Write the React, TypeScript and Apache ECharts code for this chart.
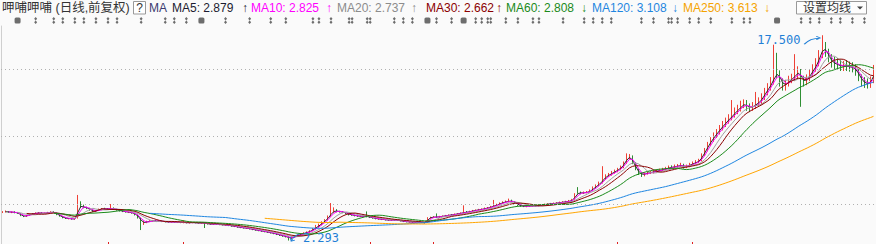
import { useEffect, useRef } from 'react';
import * as echarts from 'echarts';

// ---- candle data (one candle ≈ 3 px) ----
const opens = [
  4.36,4.40,4.45,4.36,4.43,4.36,4.30,4.12,4.06,4.16,
  4.24,4.30,4.32,4.36,4.29,4.34,4.35,4.42,4.36,4.22,
  4.08,3.97,3.90,3.93,3.86,3.95,4.90,4.82,4.72,4.68,
  4.56,4.44,4.52,4.58,4.66,4.64,4.60,4.70,4.61,4.54,
  4.47,4.42,4.37,4.36,4.30,4.18,3.95,3.55,3.63,3.72,
  3.73,3.78,3.71,3.74,3.71,3.67,3.64,3.68,3.62,3.66,
  3.61,3.65,3.59,3.61,3.64,3.61,3.57,3.60,3.56,3.53,
  3.49,3.53,3.50,3.46,3.43,3.45,3.41,3.35,3.34,3.27,
  3.24,3.19,3.21,3.14,3.11,3.05,3.03,2.97,2.93,2.91,
  2.84,2.81,2.74,2.69,2.61,2.57,2.44,2.54,2.63,2.69,
  2.80,2.86,2.90,3.02,3.14,3.28,3.46,3.63,3.82,4.10,
  4.45,4.55,4.44,4.43,4.36,4.28,4.21,4.16,4.11,4.12,
  4.06,4.12,4.04,3.98,3.96,3.87,3.89,3.84,3.83,3.79,
  3.83,3.79,3.77,3.74,3.71,3.66,3.68,3.64,3.67,3.63,
  3.61,3.62,3.96,3.99,4.07,4.01,4.09,4.12,4.13,4.21,
  4.19,4.27,4.26,4.32,4.42,4.39,4.44,4.52,4.57,4.60,
  4.61,4.70,4.71,4.82,4.90,4.94,5.07,5.14,5.20,5.24,
  5.18,5.06,4.91,4.84,4.81,4.86,4.82,4.88,4.85,4.91,
  4.94,4.99,5.03,5.01,5.06,5.07,5.14,5.16,5.20,5.23,
  5.35,5.95,5.84,5.79,5.86,5.90,6.02,6.22,6.38,6.58,
  6.85,7.10,7.18,7.35,7.42,7.60,7.72,8.05,8.45,8.48,
  8.02,7.55,7.28,7.14,7.27,7.32,7.34,7.42,7.47,7.52,
  7.57,7.64,7.74,7.71,7.80,7.85,7.90,7.74,7.82,7.95,
  8.02,8.12,8.25,8.65,9.00,9.45,9.75,10.10,10.35,10.65,
  10.90,11.15,11.40,11.60,11.90,12.05,12.35,12.45,12.18,12.12,
  12.35,12.45,12.65,12.95,13.35,13.65,14.10,15.60,14.65,14.05,
  13.75,13.95,14.25,14.35,14.65,14.85,14.15,14.05,14.35,14.75,
  15.05,15.45,16.05,16.70,16.25,15.85,15.55,15.45,15.25,15.15,
  15.30,15.22,15.12,15.05,14.85,14.45,14.05,13.92,13.85,14.15,
];
const closes = [
  4.40,4.45,4.38,4.42,4.35,4.33,4.13,4.08,4.15,4.25,
  4.28,4.33,4.35,4.30,4.33,4.36,4.40,4.38,4.20,4.10,
  3.98,3.93,3.92,3.88,3.90,4.85,4.80,4.75,4.70,4.55,
  4.45,4.50,4.60,4.62,4.65,4.63,4.68,4.62,4.55,4.48,
  4.45,4.40,4.38,4.33,4.20,4.00,3.60,3.65,3.70,3.74,
  3.76,3.72,3.75,3.70,3.68,3.66,3.67,3.64,3.65,3.62,
  3.64,3.60,3.62,3.63,3.60,3.58,3.61,3.57,3.52,3.50,
  3.52,3.49,3.47,3.45,3.44,3.40,3.36,3.33,3.28,3.25,
  3.22,3.20,3.15,3.10,3.06,3.02,2.98,2.94,2.90,2.85,
  2.80,2.75,2.68,2.62,2.58,2.45,2.55,2.62,2.70,2.78,
  2.85,2.92,3.00,3.15,3.30,3.45,3.65,3.80,4.05,4.40,
  4.50,4.45,4.42,4.38,4.30,4.20,4.18,4.12,4.10,4.08,
  4.10,4.05,4.00,3.95,3.90,3.88,3.85,3.82,3.80,3.82,
  3.80,3.78,3.75,3.70,3.68,3.67,3.65,3.66,3.64,3.62,
  3.60,3.95,4.00,4.05,4.02,4.08,4.10,4.14,4.18,4.20,
  4.25,4.28,4.33,4.38,4.40,4.45,4.50,4.55,4.58,4.62,
  4.68,4.72,4.80,4.88,4.95,5.05,5.12,5.18,5.22,5.20,
  5.08,4.90,4.85,4.82,4.85,4.83,4.86,4.84,4.90,4.93,
  4.97,5.00,5.02,5.05,5.08,5.12,5.15,5.18,5.22,5.30,
  5.70,5.85,5.80,5.85,5.88,6.00,6.20,6.35,6.55,6.80,
  7.05,7.15,7.30,7.40,7.55,7.70,8.00,8.40,8.50,8.05,
  7.60,7.30,7.15,7.25,7.30,7.35,7.40,7.45,7.50,7.55,
  7.62,7.70,7.72,7.78,7.82,7.88,7.75,7.80,7.92,8.00,
  8.10,8.20,8.60,8.95,9.40,9.70,10.05,10.30,10.60,10.85,
  11.10,11.35,11.55,11.85,12.00,12.30,12.40,12.20,12.10,12.30,
  12.40,12.60,12.90,13.30,13.60,14.00,14.50,14.70,14.10,13.80,
  13.90,14.20,14.30,14.60,14.80,14.20,14.10,14.30,14.70,15.00,
  15.40,16.00,16.60,16.30,15.90,15.50,15.40,15.30,15.20,15.25,
  15.20,15.15,15.10,14.90,14.50,14.10,13.95,13.90,14.10,14.80,
];
const lows = [
  4.33,4.37,4.35,4.32,4.31,4.28,4.10,4.03,4.04,4.13,
  4.20,4.26,4.28,4.27,4.26,4.30,4.32,4.34,4.17,4.06,
  3.94,3.89,3.86,3.84,3.83,3.92,4.70,4.68,4.62,4.50,
  4.40,4.40,4.48,4.54,4.58,4.57,4.56,4.58,4.50,4.44,
  4.40,4.36,4.33,4.28,4.15,3.92,3.07,3.45,3.58,3.66,
  3.69,3.68,3.67,3.66,3.64,3.62,3.61,3.60,3.59,3.58,
  3.57,3.56,3.55,3.57,3.56,3.54,3.53,3.22,3.48,3.46,
  3.45,3.45,3.43,3.41,3.39,3.36,3.32,3.29,3.24,3.21,
  3.18,3.15,3.11,3.06,3.02,2.98,2.94,2.90,2.86,2.81,
  2.76,2.70,2.63,2.57,2.52,2.293,2.40,2.50,2.58,2.65,
  2.75,2.82,2.87,2.98,3.10,3.25,3.42,3.60,3.78,4.05,
  4.35,4.38,4.36,4.32,4.25,4.15,4.13,4.08,4.05,4.04,
  4.02,4.01,3.96,3.91,3.86,3.83,3.81,3.78,3.76,3.75,
  3.76,3.74,3.71,3.66,3.64,3.62,3.61,3.60,3.60,3.58,
  3.56,3.60,3.91,3.95,3.97,3.98,4.04,4.07,4.09,4.15,
  4.15,4.22,4.22,4.28,4.34,4.35,4.40,4.47,4.51,4.55,
  4.57,4.64,4.67,4.77,4.84,4.90,5.01,5.08,5.12,5.13,
  5.02,4.84,4.79,4.77,4.76,4.78,4.78,4.79,4.81,4.86,
  4.89,4.93,4.96,4.97,5.01,5.03,5.08,5.11,5.14,5.18,
  5.32,5.76,5.72,5.74,5.79,5.85,5.98,6.16,6.32,6.52,
  6.78,7.00,7.10,7.25,7.35,7.50,7.65,7.98,8.30,7.95,
  7.50,7.15,7.00,7.05,7.18,7.22,7.26,7.32,7.38,7.42,
  7.48,7.55,7.60,7.62,7.68,7.74,7.62,7.65,7.72,7.85,
  7.92,8.02,8.15,8.55,8.90,9.30,9.60,9.90,10.15,10.45,
  10.70,10.95,11.20,11.40,11.65,11.85,12.10,11.90,11.80,11.90,
  12.05,12.20,12.40,12.70,13.05,13.40,13.85,14.30,13.70,13.40,
  13.40,13.70,13.95,14.10,14.30,12.20,13.70,13.80,14.10,14.45,
  14.80,15.20,15.80,15.90,15.50,15.10,15.00,14.95,14.85,14.85,
  14.85,14.80,14.75,14.50,14.10,13.70,13.60,13.55,13.60,13.95,
];
const highs = [
  4.47,4.52,4.48,4.45,4.46,4.39,4.32,4.15,4.19,4.30,
  4.33,4.38,4.40,4.39,4.37,4.42,4.46,4.45,4.38,4.24,
  4.10,4.00,3.96,3.95,3.94,5.67,5.20,4.95,4.80,4.72,
  4.60,4.55,4.66,4.70,4.72,4.70,5.00,4.75,4.65,4.58,
  4.52,4.47,4.43,4.40,4.33,4.22,3.98,3.72,3.76,3.80,
  3.82,3.81,3.79,3.77,3.74,3.71,3.72,3.70,3.69,3.68,
  3.80,3.68,3.66,3.67,3.66,3.64,3.64,3.63,3.58,3.56,
  3.56,3.55,3.53,3.50,3.48,3.48,3.44,3.38,3.36,3.30,
  3.27,3.24,3.23,3.17,3.13,3.08,3.05,3.00,2.96,2.93,
  2.87,2.83,2.76,2.71,2.64,2.60,2.60,2.66,2.75,2.83,
  2.91,2.97,3.06,3.22,3.45,3.55,3.72,3.88,4.15,5.07,
  4.75,4.62,4.50,4.48,4.40,4.32,4.26,4.20,4.16,4.15,
  4.15,4.45,4.08,4.02,3.99,3.92,3.92,3.88,3.86,3.86,
  3.87,3.83,3.81,3.77,3.74,3.71,3.71,3.70,3.70,3.67,
  3.65,4.02,4.06,4.10,4.30,4.12,4.15,4.19,4.23,4.26,
  4.30,4.33,4.38,4.90,4.48,4.50,4.56,4.60,4.64,4.68,
  4.74,4.78,4.86,5.30,5.02,5.12,5.20,5.26,5.40,5.32,
  5.22,5.09,4.95,4.89,4.90,4.90,4.92,4.92,4.96,4.99,
  5.03,5.06,5.08,5.11,5.14,5.18,5.21,5.24,5.30,5.38,
  5.80,6.25,5.92,5.93,5.96,6.08,6.30,6.45,6.66,7.80,
  7.20,7.30,7.45,7.55,7.68,7.85,8.15,8.75,8.70,8.60,
  8.10,7.62,7.35,7.35,7.40,7.45,7.52,7.58,7.62,7.68,
  7.75,7.85,7.86,7.92,7.96,8.05,7.98,7.92,8.05,8.15,
  8.25,8.35,8.75,9.15,9.60,9.95,10.30,10.55,10.85,11.15,
  11.40,11.65,12.70,12.15,12.35,12.65,12.75,12.70,12.45,12.55,
  13.30,12.90,13.20,13.60,13.95,14.40,16.80,16.20,14.90,14.30,
  14.20,14.50,14.65,16.10,15.20,15.00,14.50,14.60,15.00,15.35,
  15.80,16.40,17.50,17.00,16.50,16.10,15.90,15.80,15.70,15.60,
  15.65,15.55,15.50,15.35,15.00,14.60,14.40,14.30,14.45,15.30,
];

// ---- moving averages (periods in candle units) and header readouts ----
const maNames = ['MA5', 'MA10', 'MA20', 'MA30', 'MA60', 'MA120', 'MA250'];
const maPeriods = [2, 3, 6, 9, 18, 50, 88];
const maColors = ['#2b2b2b', '#ff00ff', '#a0a0a0', '#8b0000', '#1a8a1a', '#1f86e0', '#ffa500'];
const maTextColors = ['#1c1c30', '#ff00ff', '#8c8c8c', '#8b0000', '#1a8a1a', '#1f86e0', '#f5a300'];
const maValues = ['2.879', '2.825', '2.737', '2.662', '2.808', '3.108', '3.613'];
const maArrows = ['↑', '↑', '↑', '↑', '↓', '↓', '↓'];

const gridLevels = [5, 10, 15];
const yRange = [2.037, 18.185];
const periodTicks = [35, 60, 122, 143, 204, 229];
const infoMarks = [11,17,20,24,27,31,35,38,46,54,57,61,74,82,89,94,103,105,109,115,116,121,122,130,133,136,144,149,157,159,161,162,167,171,176,178,186,193,196,199,202,212,216,221,222,224,228,231,235,242,246,248,265,268,271,275,278,282,286];
const infoMarksWide = [5, 66, 141, 153, 257];

const categories = closes.map((_, i) => String(i));

function movingAverage(period: number) {
  return closes.map((_, i) => {
    if (i < period - 1) return '-';
    let s = 0;
    for (let k = i - period + 1; k <= i; k++) s += closes[k];
    return +(s / period).toFixed(3);
  });
}

const labelX = [172, 251, 337, 426, 506, 592, 683];
const arrowX = [242, 326, 411, 496, 581, 672, 764];

export default function App() {
  const ref = useRef<HTMLDivElement>(null);
  useEffect(() => {
    document.body.style.margin = '0';
    const chart = echarts.init(ref.current!, undefined, { renderer: 'svg' });
    const font = '12px "Liberation Sans", Arial, "Noto Sans CJK SC", sans-serif';
    const titleFont = '12.5px "Liberation Sans", Arial, "Noto Sans CJK SC", sans-serif';
    const candleData = opens.map((o, i) => [o, closes[i], lows[i], highs[i]]);
    const blue = '#1f7fd6';

    const header: any[] = [
      { type: 'text', x: 2, y: 8, style: { text: '呷哺呷哺 (日线,前复权)', fill: '#333', font: titleFont, verticalAlign: 'middle' } },
      { type: 'rect', shape: { x: 133.5, y: 1.5, width: 12, height: 12.5 }, style: { fill: '#ffffff', stroke: '#999', lineWidth: 1 } },
      { type: 'text', x: 139.5, y: 8, style: { text: '?', fill: '#333', font, align: 'center', verticalAlign: 'middle' } },
      { type: 'text', x: 149, y: 8, style: { text: 'MA', fill: '#3a3a70', font, verticalAlign: 'middle' } },
      { type: 'rect', shape: { x: 796.5, y: 1.5, width: 70, height: 12.5 }, style: { fill: '#fdfdfd', stroke: '#999', lineWidth: 1 } },
      { type: 'text', x: 803, y: 8, style: { text: '设置均线', fill: '#333', font, verticalAlign: 'middle' } },
      { type: 'polygon', shape: { points: [[857, 6.5], [863, 6.5], [860, 9.5]] }, style: { fill: '#444' } },
    ];
    maNames.forEach((n, i) => {
      header.push({ type: 'text', x: labelX[i], y: 8, style: { text: `${n}: ${maValues[i]}`, fill: maTextColors[i], font, verticalAlign: 'middle' } });
      header.push({ type: 'text', x: arrowX[i], y: 8, style: { text: maArrows[i], fill: maTextColors[i], font, verticalAlign: 'middle' } });
    });

    const option: any = {
      animation: false,
      backgroundColor: '#fafafa',
      grid: [
        { left: 1, right: 1, top: 26, bottom: 0 },
        { left: 1, right: 1, top: 16, height: 9 },
      ],
      xAxis: [
        {
          type: 'category', data: categories, gridIndex: 0, boundaryGap: true,
          axisLine: { show: false }, axisLabel: { show: false }, splitLine: { show: false },
          axisTick: {
            show: true, inside: true, length: 2, alignWithLabel: true,
            interval: (i: number) => periodTicks.includes(i),
            lineStyle: { color: '#e02020', width: 1 },
          },
        },
        { type: 'category', data: categories, gridIndex: 1, show: false, boundaryGap: true },
      ],
      yAxis: [
        {
          type: 'value', gridIndex: 0, min: yRange[0], max: yRange[1], scale: true,
          axisLine: { show: true, lineStyle: { color: '#cfcfcf' } },
          axisTick: { show: false }, axisLabel: { show: false }, splitLine: { show: false },
        },
        { type: 'value', gridIndex: 1, min: -1, max: 1, show: false },
      ],
      graphic: header,
      series: [
        {
          type: 'candlestick', name: 'K', xAxisIndex: 0, yAxisIndex: 0, data: candleData,
          barWidth: 1, z: 2, silent: true,
          itemStyle: { color: '#ef4136', color0: '#2f8f33', borderColor: '#ef4136', borderColor0: '#2f8f33', borderWidth: 1 },
          markLine: {
            silent: true, symbol: 'none', label: { show: false }, animation: false,
            lineStyle: { color: '#b0b0b0', type: [1, 3], width: 1 },
            data: gridLevels.map((v) => ({ yAxis: v })),
          },
          markPoint: {
            silent: true, animation: false,
            itemStyle: { color: 'transparent', borderColor: blue, borderWidth: 1 },
            label: {
              show: true, color: blue, fontFamily: '"DejaVu Sans Mono", monospace', fontSize: 12,
              formatter: (p: any) => Number(p.value).toFixed(3),
            },
            data: [
              {
                type: 'max', valueDim: 'highest',
                symbol: 'path://M0,9 C4,4 9,2 16,2 M12,0 L16,2 L12,4',
                symbolSize: [16, 8], symbolOffset: [-10, 5],
                label: { position: 'left', distance: 3 },
              },
              {
                type: 'min', valueDim: 'lowest',
                symbol: 'path://M10,0 C6,1 3,3 1,7 M0,3 L1,7 L5,6',
                symbolSize: [9, 7], symbolOffset: [6, -3],
                label: { position: 'right', distance: 3 },
              },
            ],
          },
        },
        ...maNames.map((n, i) => ({
          type: 'line', name: n, xAxisIndex: 0, yAxisIndex: 0, data: movingAverage(maPeriods[i]),
          symbol: 'none', showSymbol: false, silent: true, z: 3,
          lineStyle: { width: 1, color: maColors[i] }, itemStyle: { color: maColors[i] },
        })),
        {
          type: 'scatter', xAxisIndex: 1, yAxisIndex: 1, silent: true,
          data: infoMarks.map((i) => [i, 0]),
          symbol: 'path://M2,0 L4,2.5 L2,5 L4,7.5 L2,10 L0,7.5 L2,5 L0,2.5 Z',
          symbolSize: [3, 7], itemStyle: { color: '#4a4a4a' },
        },
        {
          type: 'scatter', xAxisIndex: 1, yAxisIndex: 1, silent: true,
          data: infoMarksWide.map((i) => [i, 0]),
          symbol: 'roundRect', symbolSize: [6, 6], itemStyle: { color: '#4a4a4a' },
        },
      ],
    };
    chart.setOption(option);
    return () => chart.dispose();
  }, []);
  return <div ref={ref} style={{ width: 876, height: 244 }} />;
}
